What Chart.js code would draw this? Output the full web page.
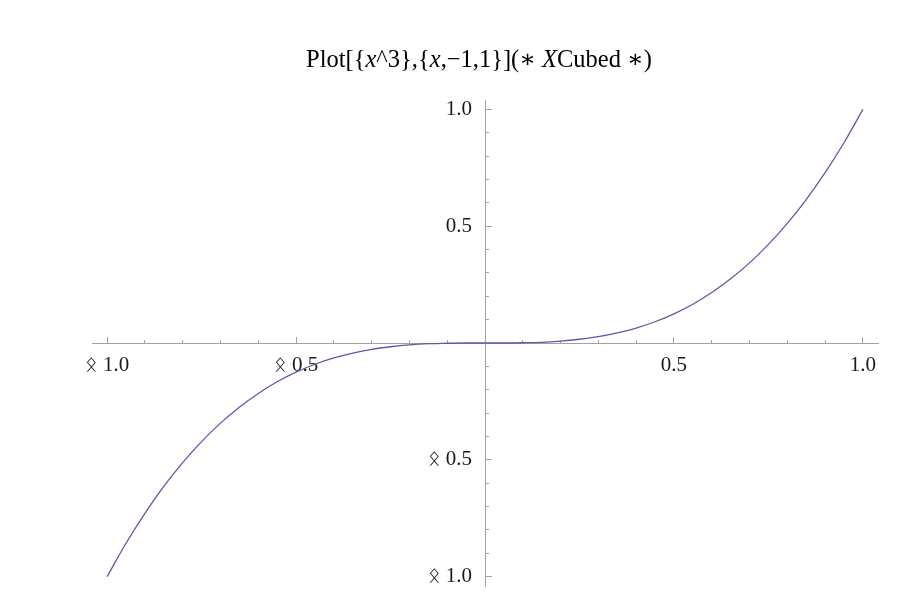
<!DOCTYPE html>
<html>
<head>
<meta charset="utf-8">
<script src="https://cdn.jsdelivr.net/npm/chart.js@4.4.1/dist/chart.umd.min.js"></script>
<style>
  html, body { margin: 0; padding: 0; background: #fff; }
  #wrap { width: 924px; height: 610px; position: relative; }
</style>
</head>
<body>
<div id="wrap"><canvas id="grafico"></canvas></div>
<script>
// Valores (curva x^3 entre -1 e 1)
const xValores = [-1.00, -0.95, -0.90, -0.85, -0.80, -0.75, -0.70, -0.65, -0.60, -0.55,
                  -0.50, -0.45, -0.40, -0.35, -0.30, -0.25, -0.20, -0.15, -0.10, -0.05,
                   0.00,  0.05,  0.10,  0.15,  0.20,  0.25,  0.30,  0.35,  0.40,  0.45,
                   0.50,  0.55,  0.60,  0.65,  0.70,  0.75,  0.80,  0.85,  0.90,  0.95, 1.00];
const yValores = [-1.000, -0.857, -0.729, -0.614, -0.512, -0.422, -0.343, -0.275, -0.216, -0.166,
                  -0.125, -0.091, -0.064, -0.043, -0.027, -0.016, -0.008, -0.003, -0.001, 0.000,
                   0.000,  0.000,  0.001,  0.003,  0.008,  0.016,  0.027,  0.043,  0.064,  0.091,
                   0.125,  0.166,  0.216,  0.275,  0.343,  0.422,  0.512,  0.614,  0.729,  0.857, 1.000];

// Marcas dos eixos
const ticksMaiores = [-1.0, -0.5, 0.5, 1.0];
const ticksMenores = [-0.9, -0.8, -0.7, -0.6, -0.4, -0.3, -0.2, -0.1, 0.1, 0.2, 0.3, 0.4, 0.6, 0.7, 0.8, 0.9];

// Título (partes em itálico marcadas com true)
const tituloPartes = [
    ['Plot[{', false], ['x', true], ['^3},{', false], ['x', true],
    [',\u22121,1}](\u2217 ', false], ['X', true], ['Cubed \u2217)', false]
];
const sinalMenos = '\u16DF';

const corEixo = '#a3a3a3';
const fonteRotulo = { family: '"Liberation Serif", "DejaVu Serif", serif', size: 21 };

function rotulo(v) {
    if (v < 0) return sinalMenos + ' ' + Math.abs(v).toFixed(1);
    return v.toFixed(1);
}

// Cria uma escala linear cruzando o centro da área (onde fica o zero)
function criarEscala(eixo, marcas, comprimento, comRotulos, comBorda) {
    return {
        type: 'linear',
        axis: eixo,
        min: -1.04,
        max: 1.04,
        position: 'center',
        afterBuildTicks: s => { s.ticks = marcas.map(v => ({ value: v })); },
        afterFit: s => {
            if (eixo === 'x') s.height = 0; else s.width = 0;
            s.paddingTop = 0; s.paddingBottom = 0;
            s.paddingLeft = 0; s.paddingRight = 0;
        },
        grid: {
            drawOnChartArea: false,
            drawTicks: true,
            tickLength: comprimento,
            tickColor: corEixo,
            tickWidth: 1
        },
        border: { display: comBorda, color: corEixo, width: 1 },
        ticks: {
            padding: eixo === 'x' ? 17 : 20,
            color: '#1a1a1a',
            font: fonteRotulo,
            maxRotation: 0,
            autoSkip: false,
            callback: v => comRotulos ? rotulo(v) : ''
        }
    };
}

// Plugin para desenhar o título com partes em itálico
const tituloPlugin = {
    id: 'tituloMisto',
    afterDraw(chart) {
        const ctx = chart.ctx;
        const familia = '"Liberation Serif", "DejaVu Serif", serif';
        const tamanho = 24.5;
        ctx.save();
        ctx.fillStyle = '#000';
        ctx.textBaseline = 'alphabetic';
        let largura = 0;
        tituloPartes.forEach(([t, it]) => {
            ctx.font = (it ? 'italic ' : '') + tamanho + 'px ' + familia;
            largura += ctx.measureText(t).width;
        });
        let x = 479 - largura / 2;
        tituloPartes.forEach(([t, it]) => {
            ctx.font = (it ? 'italic ' : '') + tamanho + 'px ' + familia;
            ctx.fillText(t, x, 67);
            x += ctx.measureText(t).width;
        });
        ctx.restore();
    }
};

const fundoPlugin = {
    id: 'fundo',
    beforeDraw(chart) {
        const ctx = chart.ctx;
        ctx.save();
        ctx.fillStyle = '#fff';
        ctx.fillRect(0, 0, chart.width, chart.height);
        ctx.restore();
    }
};

function criarGrafico() {
    const ctx = document.getElementById('grafico');
    new Chart(ctx, {
        type: 'line',
        data: {
            datasets: [{
                data: xValores.map((x, i) => ({ x: x, y: yValores[i] })),
                borderColor: '#5a5aaa',
                borderWidth: 1.3,
                pointRadius: 0,
                fill: false,
                cubicInterpolationMode: 'monotone',
                xAxisID: 'x',
                yAxisID: 'y'
            }]
        },
        options: {
            responsive: true,
            maintainAspectRatio: false,
            animation: false,
            layout: { padding: { left: 92, right: 46, top: 100, bottom: 24 } },
            plugins: {
                legend: { display: false },
                title: { display: false },
                tooltip: { enabled: false }
            },
            scales: {
                x: criarEscala('x', ticksMenores, -4, false, true),
                x2: criarEscala('x', ticksMaiores, -7, true, false),
                y: criarEscala('y', ticksMenores, -4, false, true),
                y2: criarEscala('y', ticksMaiores, -7, true, false)
            }
        },
        plugins: [fundoPlugin, tituloPlugin]
    });
}

criarGrafico();
</script>
</body>
</html>
